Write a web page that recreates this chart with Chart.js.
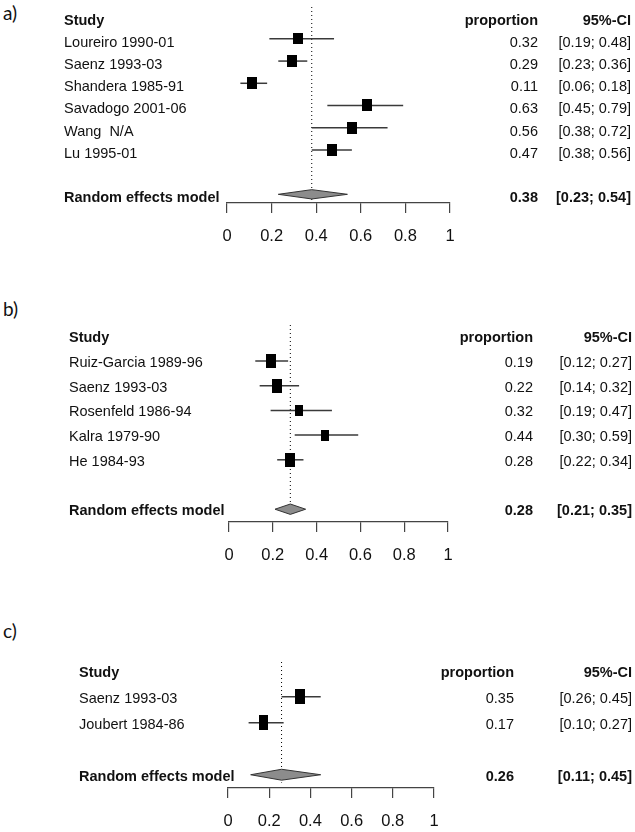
<!DOCTYPE html>
<html><head><meta charset="utf-8">
<script src="https://cdn.jsdelivr.net/npm/chart.js@4.4.0/dist/chart.umd.min.js"></script>
<style>
html,body{margin:0;padding:0;background:#fff;width:635px;height:832px;overflow:hidden;position:relative;}
canvas{position:absolute;left:0;}
.lab{position:absolute;left:3px;font-family:Lato,'Open Sans',sans-serif;font-size:19px;line-height:20px;color:#111;}
</style></head><body>
<div class="lab" style="top:3px">a)</div>
<div class="lab" style="top:299px">b)</div>
<div class="lab" style="top:621px">c)</div>
<canvas id="ca"></canvas>
<canvas id="cb"></canvas>
<canvas id="cc"></canvas>
<script>
// ---------- data ----------
const xTicks = [0, 0.2, 0.4, 0.6, 0.8, 1];

const studiesA = ['Loureiro 1990-01', 'Saenz 1993-03', 'Shandera 1985-91', 'Savadogo 2001-06', 'Wang  N/A', 'Lu 1995-01'];
const propA   = [0.32, 0.29, 0.11, 0.63, 0.56, 0.47];
const lowA    = [0.19, 0.23, 0.06, 0.45, 0.38, 0.38];
const highA   = [0.48, 0.36, 0.18, 0.79, 0.72, 0.56];
const weightA = [15.4, 17.6, 17.8, 15.9, 16.8, 16.5];
const pooledA = [0.38, 0.23, 0.54];   // estimate, lower, upper

const studiesB = ['Ruiz-Garcia 1989-96', 'Saenz 1993-03', 'Rosenfeld 1986-94', 'Kalra 1979-90', 'He 1984-93'];
const propB   = [0.19, 0.22, 0.32, 0.44, 0.28];
const lowB    = [0.12, 0.14, 0.19, 0.30, 0.22];
const highB   = [0.27, 0.32, 0.47, 0.59, 0.34];
const weightB = [25.2, 23.0, 13.3, 15.0, 23.5];
const pooledB = [0.28, 0.21, 0.35];

const studiesC = ['Saenz 1993-03', 'Joubert 1984-86'];
const propC   = [0.35, 0.17];
const lowC    = [0.26, 0.10];
const highC   = [0.45, 0.27];
const weightC = [50.2, 49.8];
const pooledC = [0.26, 0.11, 0.45];

// ---------- layout / style ----------
const FONT = "'Liberation Sans', Arial, Helvetica, sans-serif";
const AXIS_H = 44;
const panels = [
  {id:'ca', top:0,   padTop:0,  chartH:203, left:227, right:450, yMin:-0.435, yMax:8.391, textDy:4,
   labelX:64, propX:538, ciX:631, areaScale:7.09, aspect:1.2,
   studies:studiesA, prop:propA, low:lowA, high:highA, weight:weightA, pooled:pooledA},
  {id:'cb', top:300, padTop:25, chartH:197, left:229, right:448, yMin:-0.457, yMax:7.518, textDy:2,
   labelX:69, propX:533, ciX:632, areaScale:5.95, aspect:1.4,
   studies:studiesB, prop:propB, low:lowB, high:highB, weight:weightB, pooled:pooledB},
  {id:'cc', top:640, padTop:22, chartH:126, left:228, right:434, yMin:-0.335, yMax:4.51, textDy:2,
   labelX:79, propX:514, ciX:632, areaScale:2.8, aspect:1.55,
   studies:studiesC, prop:propC, low:lowC, high:highC, weight:weightC, pooled:pooledC}
];

function makeSquare(w, h) {
  const c = document.createElement('canvas');
  c.width = Math.max(1, Math.round(w));
  c.height = Math.max(1, Math.round(h));
  const g = c.getContext('2d');
  g.fillStyle = '#000';
  g.fillRect(0, 0, c.width, c.height);
  return c;
}

function textPlugin(p) {
  return {
    id: 'forestText_' + p.id,
    afterDraw(chart) {
      const ctx = chart.ctx, ys = chart.scales.y;
      const n = p.studies.length, modelRow = n + 2;
      const py = r => ys.getPixelForValue(r) + p.textDy;
      ctx.save();
      ctx.fillStyle = '#111';
      ctx.textBaseline = 'middle';
      ctx.font = 'bold 14.5px ' + FONT;
      ctx.textAlign = 'left';
      ctx.fillText('Study', p.labelX, py(0));
      ctx.textAlign = 'right';
      ctx.fillText('proportion', p.propX, py(0));
      ctx.fillText('95%-CI', p.ciX, py(0));
      ctx.font = '14.5px ' + FONT;
      for (let i = 0; i < n; i++) {
        ctx.textAlign = 'left';
        ctx.fillText(p.studies[i], p.labelX, py(i + 1));
        ctx.textAlign = 'right';
        ctx.fillText(p.prop[i].toFixed(2), p.propX, py(i + 1));
        ctx.fillText('[' + p.low[i].toFixed(2) + '; ' + p.high[i].toFixed(2) + ']', p.ciX, py(i + 1));
      }
      ctx.font = 'bold 14.5px ' + FONT;
      ctx.textAlign = 'left';
      ctx.fillText('Random effects model', p.labelX, py(modelRow));
      ctx.textAlign = 'right';
      ctx.fillText(p.pooled[0].toFixed(2), p.propX, py(modelRow));
      ctx.fillText('[' + p.pooled[1].toFixed(2) + '; ' + p.pooled[2].toFixed(2) + ']', p.ciX, py(modelRow));
      ctx.restore();
    }
  };
}

function build(p) {
  const cv = document.getElementById(p.id);
  const H = p.padTop + p.chartH + AXIS_H;
  cv.width = 635; cv.height = H;
  cv.style.top = p.top + 'px';
  cv.style.width = '635px'; cv.style.height = H + 'px';
  const n = p.studies.length, modelRow = n + 2;
  const ds = [];
  // reference (pooled estimate) dotted line
  ds.push({type:'line', data:[{x:p.pooled[0], y:p.yMin}, {x:p.pooled[0], y:modelRow + 0.3}],
    borderColor:'#000', borderWidth:1, borderDash:[1, 3], pointRadius:0, fill:false, order:4});
  // confidence interval lines
  for (let i = 0; i < n; i++) {
    ds.push({type:'line', data:[{x:p.low[i], y:i + 1}, {x:p.high[i], y:i + 1}],
      borderColor:'#3a3a3a', borderWidth:1.5, pointRadius:0, fill:false, order:3});
  }
  // study squares (area proportional to weight)
  ds.push({type:'scatter',
    data:p.prop.map((v, i) => ({x:v, y:i + 1})),
    pointStyle:p.weight.map(w => {
      const ww = Math.sqrt(p.areaScale * w / p.aspect);
      return makeSquare(ww, ww * p.aspect);
    }),
    pointRadius:6, order:1});
  // pooled diamond
  const dh = 0.21;
  ds.push({type:'line',
    data:[{x:p.pooled[1], y:modelRow}, {x:p.pooled[0], y:modelRow - dh}, {x:p.pooled[2], y:modelRow},
          {x:p.pooled[0], y:modelRow + dh}, {x:p.pooled[1], y:modelRow}],
    borderColor:'#333', borderWidth:1, backgroundColor:'#8c8c8c', fill:'shape', pointRadius:0, tension:0, order:2});

  new Chart(cv, {
    type:'scatter',
    data:{datasets:ds},
    options:{
      responsive:false, animation:false, events:[],
      devicePixelRatio:1,
      layout:{padding:{left:p.left, right:635 - p.right, top:p.padTop, bottom:0}},
      plugins:{legend:{display:false}, tooltip:{enabled:false}},
      scales:{
        x:{type:'linear', position:'bottom', min:0, max:1,
          afterBuildTicks:s => { s.ticks = xTicks.map(v => ({value:v})); },
          afterFit:s => { s.height = AXIS_H; },
          ticks:{padding:14, color:'#111', font:{family:FONT, size:16.5}, maxRotation:0, autoSkip:false,
                 callback:v => String(v)},
          grid:{display:true, drawOnChartArea:false, drawTicks:true, tickLength:10, color:'#444', lineWidth:1.2},
          border:{display:true, color:'#444', width:1.2}},
        y:{type:'linear', display:false, min:p.yMin, max:p.yMax, reverse:true}
      }
    },
    plugins:[textPlugin(p)]
  });
}
panels.forEach(build);
</script>
</body></html>
